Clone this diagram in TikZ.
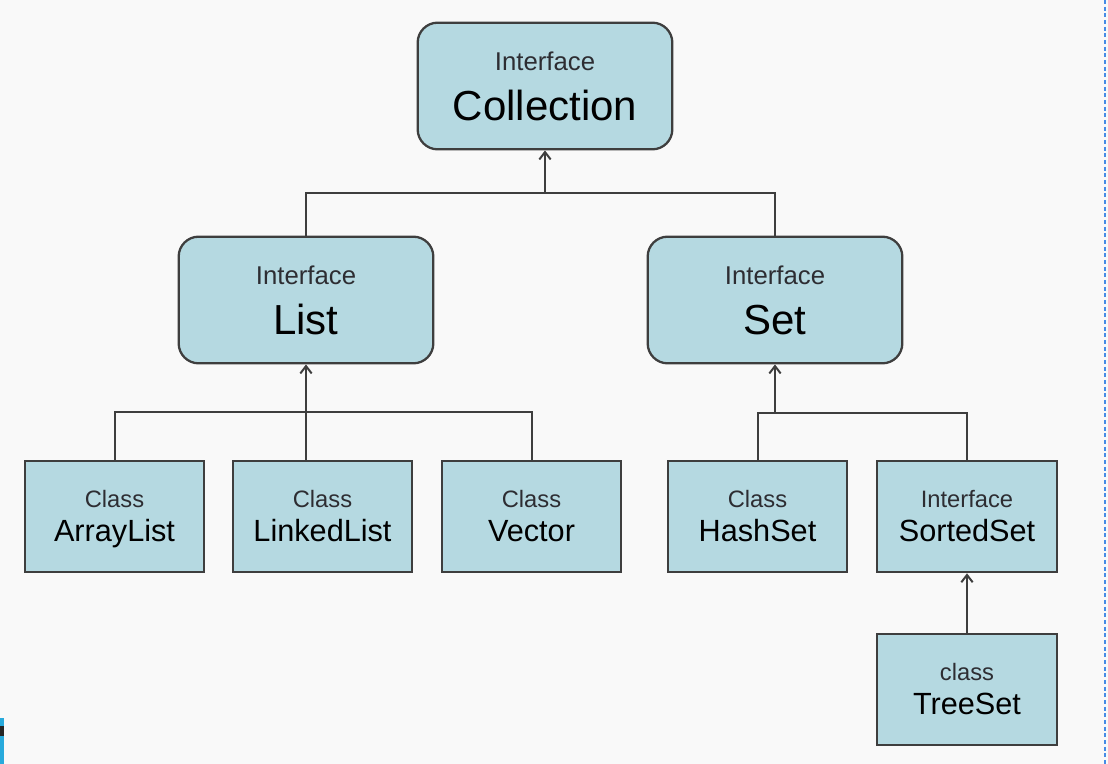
\documentclass[tikz,border=0pt]{standalone}
\usepackage{fontspec}
\setmainfont{Liberation Sans}
\usepackage{tikz}
\usetikzlibrary{arrows.meta}
\usepackage{xcolor}
\definecolor{pagebg}{RGB}{249,249,249}
\definecolor{boxfill}{RGB}{181,217,225}
\definecolor{boxline}{RGB}{62,62,62}
\definecolor{tagcol}{RGB}{45,45,50}
\definecolor{edgeblue}{RGB}{70,140,230}
\definecolor{markcyan}{RGB}{40,170,220}

\tikzset{
  topbox/.style={draw=boxline, fill=boxfill, line width=1.7pt, rounded corners=15pt,
    minimum width=191pt, minimum height=95pt, inner sep=0pt},
  leafbox/.style={draw=boxline, fill=boxfill, line width=1.7pt,
    minimum width=134.5pt, minimum height=83.5pt, inner sep=0pt},
  toptag/.style={anchor=base, inner sep=0pt, text=tagcol, font=\fontsize{19.3}{23}\selectfont},
  topname/.style={anchor=base, inner sep=0pt, text=black, font=\fontsize{31.5}{36}\selectfont},
  leaftag/.style={anchor=base, inner sep=0pt, text=tagcol, font=\fontsize{17.8}{21}\selectfont},
  leafname/.style={anchor=base, inner sep=0pt, text=black, font=\fontsize{23}{27}\selectfont},
  link/.style={draw=boxline, line width=1.5pt},
  inherit/.style={link, -{Straight Barb[length=5.5pt,width=8.5pt]}}
}

\begin{document}
\begin{tikzpicture}[x=0.75pt, y=-0.75pt]
  \fill[pagebg] (0,0) rectangle (1108,764);
  \useasboundingbox (0,0) rectangle (1108,764);
  % screen edges
  \draw[edgeblue, line width=1.2pt, dash pattern=on 3pt off 2pt] (1105,0) -- (1105,764);
  \fill[markcyan] (0,718) rectangle (4,764);
  \fill[black!85] (0,726) rectangle (4,736);

  % interfaces on top
  \foreach \n/\x/\y/\t in {coll/545/86/Collection, list/306/300/List, set/775/300/Set}{
    \node[topbox] (\n) at (\x,\y) {};
    \node[toptag] (\n-tag) at (\x,\y-16) {Interface};
    \node[topname] (\n-name) at (\x,\y+34) {\t};
  }

  % classes below
  \foreach \n/\x/\y/\k/\t in {alist/114.5/516.5/Class/ArrayList, llist/322.5/516.5/Class/LinkedList,
      vec/531.5/516.5/Class/Vector, hset/757.5/516.5/Class/HashSet,
      sset/967/516.5/Interface/SortedSet, tset/967/689.5/class/TreeSet}{
    \node[leafbox] (\n) at (\x,\y) {};
    \node[leaftag] (\n-tag) at (\x,\y-9) {\k};
    \node[leafname] (\n-name) at (\x,\y+25) {\t};
  }

  % joins
  \coordinate (bartop) at (545,193);
  \coordinate (barlist) at (306,412);
  \coordinate (barset) at (775,413);

  \draw[link] (list.north) |- (bartop) -| (set.north);
  \draw[inherit] (bartop) -- (coll.south);

  \draw[link] (alist.north) |- (barlist) -| (vec.north);
  \draw[inherit] (llist.north -| list.south) -- (list.south);

  \draw[link] (hset.north) |- (barset) -| (sset.north);
  \draw[inherit] (barset) -- (set.south);

  \draw[inherit] (tset.north) -- (sset.south);
\end{tikzpicture}
\end{document}
